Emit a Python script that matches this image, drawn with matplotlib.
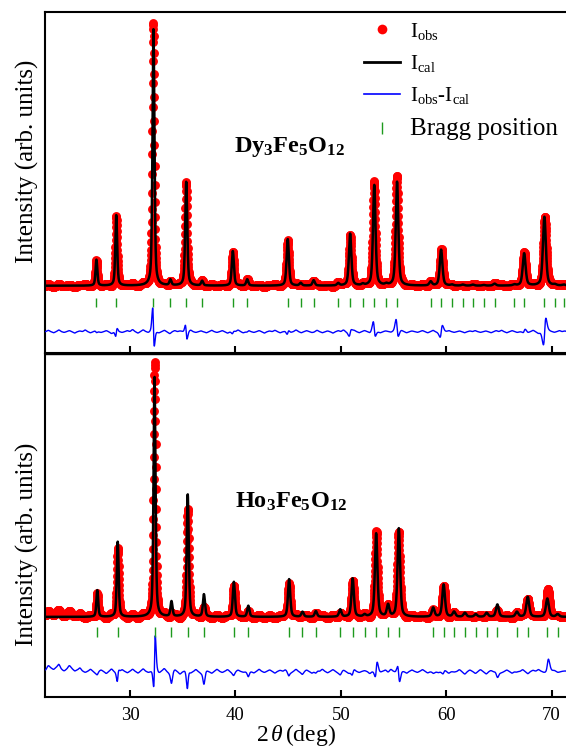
import numpy as np
import matplotlib
matplotlib.use("Agg")
import matplotlib.pyplot as plt
from matplotlib.lines import Line2D

# ---------------- data ----------------
scan_start, scan_stop, scan_step = 22.0, 71.4, 0.015

# Dy3Fe5O12 : Bragg positions (deg), calculated / observed peak heights, obs shift
dy_bragg = [26.82, 28.70, 32.23, 33.84, 35.34, 36.85, 39.76, 41.13, 44.97, 46.20,
            47.43, 49.76, 50.89, 52.09, 53.18, 54.32, 55.34, 58.53, 59.52, 60.55,
            61.58, 62.53, 63.56, 64.59, 66.47, 67.40, 69.32, 70.31, 71.16]
dy_calc_height = [78, 212, 770, 17, 312, 14, 104, 19, 140, 8,
                  16, 7, 156, 4, 302, 4, 312, 12, 108, 3,
                  3, 3, 2, 6, 3, 97, 207, 3, 3]
dy_obs_height = [72, 204, 788, 16, 314, 13, 98, 16, 136, 8,
                 15, 7, 154, 4, 309, 4, 326, 12, 109, 3,
                 3, 3, 2, 6, 3, 99, 205, 3, 3]
dy_obs_shift = [0, 0.008, -0.012, 0, -0.012, 0, 0.006, 0, 0.008, 0,
                0, 0, 0.010, 0, -0.016, 0, -0.016, 0, 0.035, 0,
                0, 0, 0, 0, 0, 0.015, 0.050, 0, 0]

# small residual wiggles of the observed pattern, every 0.5 deg from 22.25 to 71.25
resid_pos = [22.25 + 0.5 * i for i in range(99)]
dy_resid = [4, -3, 5, -2, 3, -4, 2, 5, -3, 4,
            -2, 3, -5, 4, -2, 3, 6, -4, 5, -3,
            2, -3, 4, -5, 3, 2, -4, 5, -2, 3,
            -3, 4, -2, 3, -4, 2, 5, -3, 4, -2,
            3, -4, 2, 4, -3, 2, -2, 5, -3, 3,
            -2, 4, -3, 2, -4, 3, 5, -5, 4, -3,
            3, -4, 5, -3, 2, -2, 3, 4, -3, 2,
            -2, 3, -3, 4, -2, 2, 3, -2, 2, -3,
            2, 3, -2, 2, -3, 3, 4, -3, 3, -2,
            2, -3, 4, -4, 3, 2, -2, 3, 2]

# Ho3Fe5O12
ho_bragg = [26.90, 28.84, 32.33, 33.94, 35.48, 37.02, 39.86, 41.23, 45.10, 46.37,
            47.64, 49.95, 51.13, 52.26, 53.36, 54.49, 55.51, 58.77, 59.76, 60.75,
            61.78, 62.81, 63.84, 64.86, 66.71, 67.74, 69.60, 70.58]
ho_calc_height = [80, 225, 720, 45, 367, 67, 105, 33, 113, 15,
                  17, 22, 115, 6, 250, 35, 265, 27, 97, 15,
                  12, 8, 12, 37, 15, 60, 55, 8]
ho_obs_height = [72, 207, 760, 10, 322, 28, 97, 12, 102, 8,
                 10, 12, 104, 4, 254, 32, 254, 15, 89, 10,
                 8, 5, 8, 15, 10, 57, 80, 5]
ho_obs_shift = [0, 0.010, 0.017, 0, 0.008, 0, 0, 0, 0.006, 0,
                0, 0, 0.008, 0, 0.020, 0, -0.020, 0, 0.012, 0,
                0, 0, 0, 0, 0, 0, 0.050, 0]
ho_bkg_pos = [22.8, 24.4]
ho_bkg_height = [12, 8]
ho_resid = [10, -6, 12, -4, 9, -5, 8, -3, 6, -5,
            4, -6, 7, -3, 5, -4, 6, -5, 7, -3,
            5, -6, 8, -4, 6, -7, 5, -3, 6, -4,
            4, -5, 6, -3, 5, -6, 4, -2, 5, -4,
            6, -3, 4, -5, 3, 5, -4, 6, -3, 4,
            -5, 3, 6, -4, 5, -3, 4, -5, 6, -3,
            4, -6, 5, -3, 4, 6, -4, 3, -5, 4,
            -3, 5, -4, 6, -3, 4, -5, 3, 5, -4,
            4, -3, 5, -4, 3, 6, -3, 4, -5, 3,
            5, -4, 3, 5, -3, 4, 2, -1, 1]

tick_values = [30, 40, 50, 60, 70]

# ---------------- helpers ----------------
def profile(x, centers, heights, width_scale=1.0, eta=0.5, fixed_width=None):
    c = np.asarray(centers, float)[None, :]
    h = np.asarray(heights, float)
    if fixed_width is None:
        w = (0.18 + 0.003 * (c - 20.0)) * width_scale
    else:
        w = fixed_width
    d2 = 4.0 * (x[:, None] - c) ** 2 / w ** 2
    prof = eta / (1.0 + d2) + (1.0 - eta) * np.exp(-np.log(2.0) * d2)
    return prof @ h

two_theta = np.arange(scan_start, scan_stop, scan_step)

dy_calc = profile(two_theta, dy_bragg, dy_calc_height)
dy_obs = (profile(two_theta, np.add(dy_bragg, dy_obs_shift), dy_obs_height)
          + profile(two_theta, resid_pos, dy_resid, eta=0.0, fixed_width=0.28))
ho_calc = profile(two_theta, ho_bragg, ho_calc_height)
ho_obs = (profile(two_theta, np.add(ho_bragg, ho_obs_shift), ho_obs_height)
          + profile(two_theta, ho_bkg_pos, ho_bkg_height, eta=0.0, fixed_width=1.2)
          + profile(two_theta, resid_pos, ho_resid, eta=0.0, fixed_width=0.28))

# ---------------- style ----------------
plt.rcParams["font.family"] = ["Liberation Serif", "DejaVu Serif"]
plt.rcParams["mathtext.fontset"] = "custom"
plt.rcParams["mathtext.rm"] = "Liberation Serif"
plt.rcParams["mathtext.it"] = "Liberation Serif:italic"
plt.rcParams["mathtext.bf"] = "Liberation Serif:bold"

RED = "#ff0000"
BLUE = "#0000ff"
GREEN = "#1e9a1e"

fig = plt.figure(figsize=(5.66, 7.47), dpi=100)
W, H = 566, 747
left = 45 / W
ax1 = fig.add_axes([left, 1 - 353 / H, 1 - left, (353 - 12) / H])
ax2 = fig.add_axes([left, 1 - 697 / H, 1 - left, (697 - 354) / H])

panels = [
    (ax1, dy_obs, dy_calc, dy_bragg, (-202, 822), (-36, -63), -138,
     r"$\mathbf{Dy_3Fe_5O_{12}}$", 45.1, 417, 0.563),
    (ax2, ho_obs, ho_calc, ho_bragg, (-240, 788), (-30, -60), -163,
     r"$\mathbf{Ho_3Fe_5O_{12}}$", 45.3, 345, 0.444),
]

for ax, obs, calc, bragg, ylim, tick_y, diff_off, name, nx, ny, ly in panels:
    ax.plot(two_theta, obs, "o", color=RED, ms=6.4, mec=RED, mew=0, zorder=2)
    ax.plot(two_theta, calc, "-", color="black", lw=1.8, zorder=3)
    ax.plot(two_theta, obs - calc + diff_off, "-", color=BLUE, lw=1.0, zorder=3)
    ax.vlines(bragg, tick_y[1], tick_y[0], color=GREEN, lw=1.0, zorder=3)
    ax.text(nx, ny, name, ha="center", va="center", fontsize=17.5)
    ax.set_xlim(21.94, 71.37)
    ax.set_ylim(*ylim)
    ax.set_yticks([])
    ax.set_xticks(tick_values)
    ax.tick_params(axis="x", direction="in", length=5, width=1.5, labelsize=13.5, pad=7)
    ax.spines["right"].set_visible(False)
    for s in ("left", "bottom", "top"):
        ax.spines[s].set_linewidth(1.5)
    ax.set_ylabel("Intensity (arb. units)", fontsize=18)
    ax.yaxis.set_label_coords(-0.012, ly)

ax1.tick_params(axis="x", labelbottom=False)
ax2.spines["top"].set_linewidth(1.0)
ax2.set_xlabel(r"2$\,\mathit{\theta}\,$(deg)", fontsize=17)
ax2.xaxis.set_label_coords(0.482, -0.074)

handles = [
    Line2D([], [], ls="none", marker="o", color=RED, ms=7, mew=0),
    Line2D([], [], color="black", lw=2.0),
    Line2D([], [], color=BLUE, lw=1.2),
    Line2D([], [], ls="none", marker="|", color=GREEN, ms=9, mew=1.0),
]
texts = [r"$\mathrm{I}_{\mathrm{obs}}$", r"$\mathrm{I}_{\mathrm{cal}}$",
         r"$\mathrm{I}_{\mathrm{obs}}$-$\mathrm{I}_{\mathrm{cal}}$", "Bragg position"]
leg = ax1.legend(handles, texts, loc="upper left", bbox_to_anchor=(0.612, 0.975),
                 frameon=False, fontsize=15, handlelength=1.75, handletextpad=0.45,
                 labelspacing=0.55, borderpad=0, borderaxespad=0)
leg.get_texts()[3].set_fontsize(18)

fig.savefig("out.png", dpi=100)
